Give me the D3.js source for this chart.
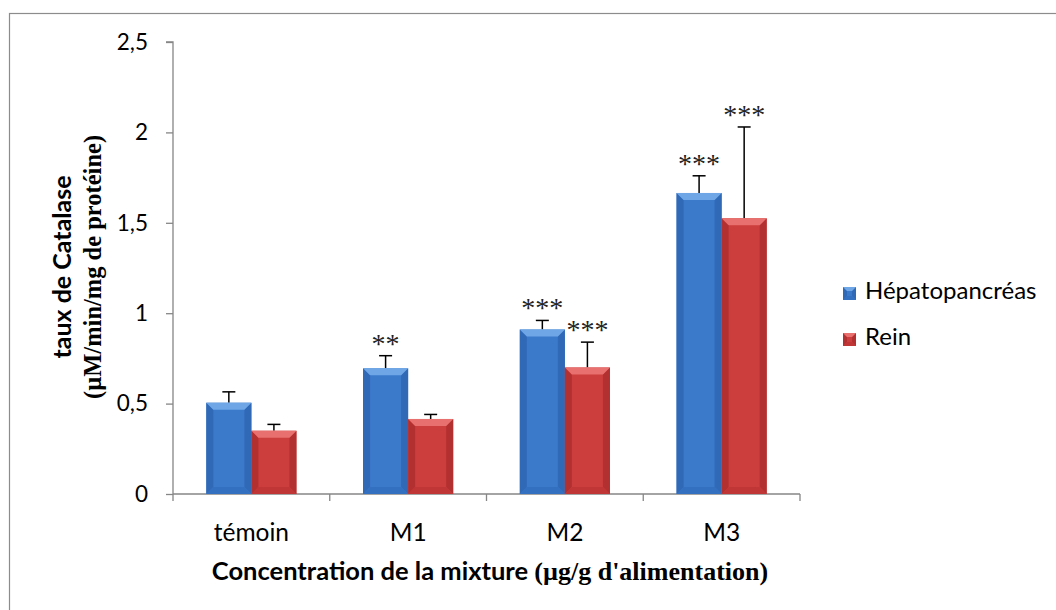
<!DOCTYPE html>
<html>
<head>
<meta charset="utf-8">
<script src="https://cdn.jsdelivr.net/npm/d3@7"></script>
<style>
  html, body { margin: 0; padding: 0; background: #fff; }
  svg { display: block; }
</style>
</head>
<body>
<svg id="chart" width="1056" height="610"></svg>
<script>
// Catalase activity by mixture concentration, two organs
const categories = ["témoin", "M1", "M2", "M3"];
const seriesNames = ["Hépatopancréas", "Rein"];
const hepatoValues = [0.505, 0.695, 0.91, 1.665];
const hepatoErrors = [0.06, 0.07, 0.05, 0.095];
const reinValues = [0.35, 0.415, 0.70, 1.525];
const reinErrors = [0.035, 0.025, 0.14, 0.505];
const hepatoMarks = ["", "**", "***", "***"];
const reinMarks = ["", "", "***", "***"];
const yTicks = [0, 0.5, 1, 1.5, 2, 2.5];
const yTickLabels = ["0", "0,5", "1", "1,5", "2", "2,5"];

const series = [
  { name: seriesNames[0], values: hepatoValues, errors: hepatoErrors, marks: hepatoMarks,
    face: "#3b79cb", top: "#6ea6e6", side: "#3069b6", bottom: "#3470c0" },
  { name: seriesNames[1], values: reinValues, errors: reinErrors, marks: reinMarks,
    face: "#cc3d3d", top: "#e8706e", side: "#b33030", bottom: "#c03636" }
];

const svg = d3.select("#chart");
const sansFont = "Lato, 'Liberation Sans', sans-serif";
const serifFont = "'Liberation Serif', 'DejaVu Serif', serif";

// outer chart frame
svg.append("rect")
  .attr("x", 9.5).attr("y", 13.5)
  .attr("width", 1100).attr("height", 700)
  .attr("fill", "#fff").attr("stroke", "#8c8c8c").attr("stroke-width", 1.2);

const plot = { left: 173, right: 800, top: 42, bottom: 494 };

const x0 = d3.scaleBand().domain(categories).range([plot.left, plot.right]).padding(0);
const groupWidth = x0.bandwidth() * 0.575;
const x1 = d3.scaleBand().domain(seriesNames).range([0, groupWidth]).padding(0);
const y = d3.scaleLinear().domain([0, 2.5]).range([plot.bottom, plot.top]);

// y axis
const yAxis = d3.axisLeft(y).tickValues(yTicks)
  .tickFormat((d, i) => yTickLabels[i]).tickSize(7).tickPadding(18);
const gy = svg.append("g").attr("transform", `translate(${plot.left},0)`).call(yAxis);
gy.select(".domain").attr("stroke", "#868686").attr("stroke-width", 1.3).attr("d", `M-7,${plot.top}H0V${plot.bottom}`);
gy.selectAll(".tick line").attr("stroke", "#868686").attr("stroke-width", 1.3);
gy.selectAll(".tick text").attr("font-family", sansFont).attr("font-size", 22.5).attr("fill", "#000");

// x axis: ticks sit on the category boundaries
const gx = svg.append("g").attr("transform", `translate(0,${plot.bottom})`);
gx.append("line").attr("x1", plot.left).attr("x2", plot.right)
  .attr("stroke", "#868686").attr("stroke-width", 1.3);
const boundaries = categories.map(c => x0(c)).concat([x0(categories[categories.length - 1]) + x0.bandwidth()]);
gx.selectAll("line.tk").data(boundaries).join("line").attr("class", "tk")
  .attr("x1", d => d).attr("x2", d => d).attr("y1", 0).attr("y2", 7)
  .attr("stroke", "#868686").attr("stroke-width", 1.3);
gx.selectAll("text").data(categories).join("text")
  .attr("x", d => x0(d) + x0.bandwidth() / 2).attr("y", 47)
  .attr("text-anchor", "middle").attr("font-family", sansFont).attr("font-size", 24.5)
  .text(d => d);

// bevelled bar: front face with light top bevel and darker side bevels
function bevelBar(g, bx, by, bw, bh, s, b) {
  const x2 = bx + bw, y2 = by + bh;
  const bb = Math.min(b, bw / 2, bh / 2);
  g.append("rect").attr("x", bx).attr("y", by).attr("width", bw).attr("height", bh).attr("fill", s.face);
  g.append("polygon").attr("fill", s.side)
    .attr("points", [[bx, by], [bx + bb, by + bb], [bx + bb, y2 - bb], [bx, y2]].join(" "));
  g.append("polygon").attr("fill", s.side)
    .attr("points", [[x2, by], [x2 - bb, by + bb], [x2 - bb, y2 - bb], [x2, y2]].join(" "));
  g.append("polygon").attr("fill", s.bottom)
    .attr("points", [[bx, y2], [bx + bb, y2 - bb], [x2 - bb, y2 - bb], [x2, y2]].join(" "));
  g.append("polygon").attr("fill", s.top)
    .attr("points", [[bx, by], [x2, by], [x2 - bb, by + bb], [bx + bb, by + bb]].join(" "));
}

const bars = svg.append("g");
series.forEach(s => {
  categories.forEach((c, i) => {
    const gx0 = x0(c) + (x0.bandwidth() - groupWidth) / 2 + x1(s.name);
    const bw = x1.bandwidth();
    const v = s.values[i];
    const g = bars.append("g");
    // error bar (upper half only)
    const cx = gx0 + bw / 2;
    const yTop = y(v + s.errors[i]);
    g.append("line").attr("x1", cx).attr("x2", cx).attr("y1", y(v)).attr("y2", yTop)
      .attr("stroke", "#000").attr("stroke-width", 1.5);
    g.append("line").attr("x1", cx - 6.5).attr("x2", cx + 6.5).attr("y1", yTop).attr("y2", yTop)
      .attr("stroke", "#000").attr("stroke-width", 1.5);
    bevelBar(g, gx0, y(v), bw, y(0) - y(v), s, 7);
    if (s.marks[i]) {
      g.append("text").attr("x", cx).attr("y", yTop - 3)
        .attr("text-anchor", "middle").attr("font-family", serifFont).attr("font-size", 28)
        .attr("fill", "#222").text(s.marks[i]);
    }
  });
});

// axis titles
const yTitle = svg.append("text")
  .attr("transform", "translate(71,267) rotate(-90)")
  .attr("text-anchor", "middle").attr("font-weight", "bold");
yTitle.append("tspan").attr("x", 0).attr("y", 0).attr("font-family", sansFont).attr("font-size", 25)
  .text("taux de Catalase");
yTitle.append("tspan").attr("x", 0).attr("y", 30).attr("font-family", serifFont).attr("font-size", 24.5)
  .text("(µM/min/mg de protéine)");

const xTitle = svg.append("text").attr("x", 490).attr("y", 580)
  .attr("text-anchor", "middle").attr("font-weight", "bold");
xTitle.append("tspan").attr("font-family", sansFont).attr("font-size", 25.5).text("Concentration de la mixture ");
xTitle.append("tspan").attr("font-family", serifFont).attr("font-size", 26).text("(µg/g d'alimentation)");

// legend
const legend = svg.append("g");
series.forEach((s, i) => {
  const ly = 287 + i * 46;
  const g = legend.append("g");
  bevelBar(g, 843, ly, 13, 13, s, 4);
  g.append("text").attr("x", 865).attr("y", ly + 12)
    .attr("font-family", sansFont).attr("font-size", 24).text(s.name);
});
</script>
</body>
</html>
